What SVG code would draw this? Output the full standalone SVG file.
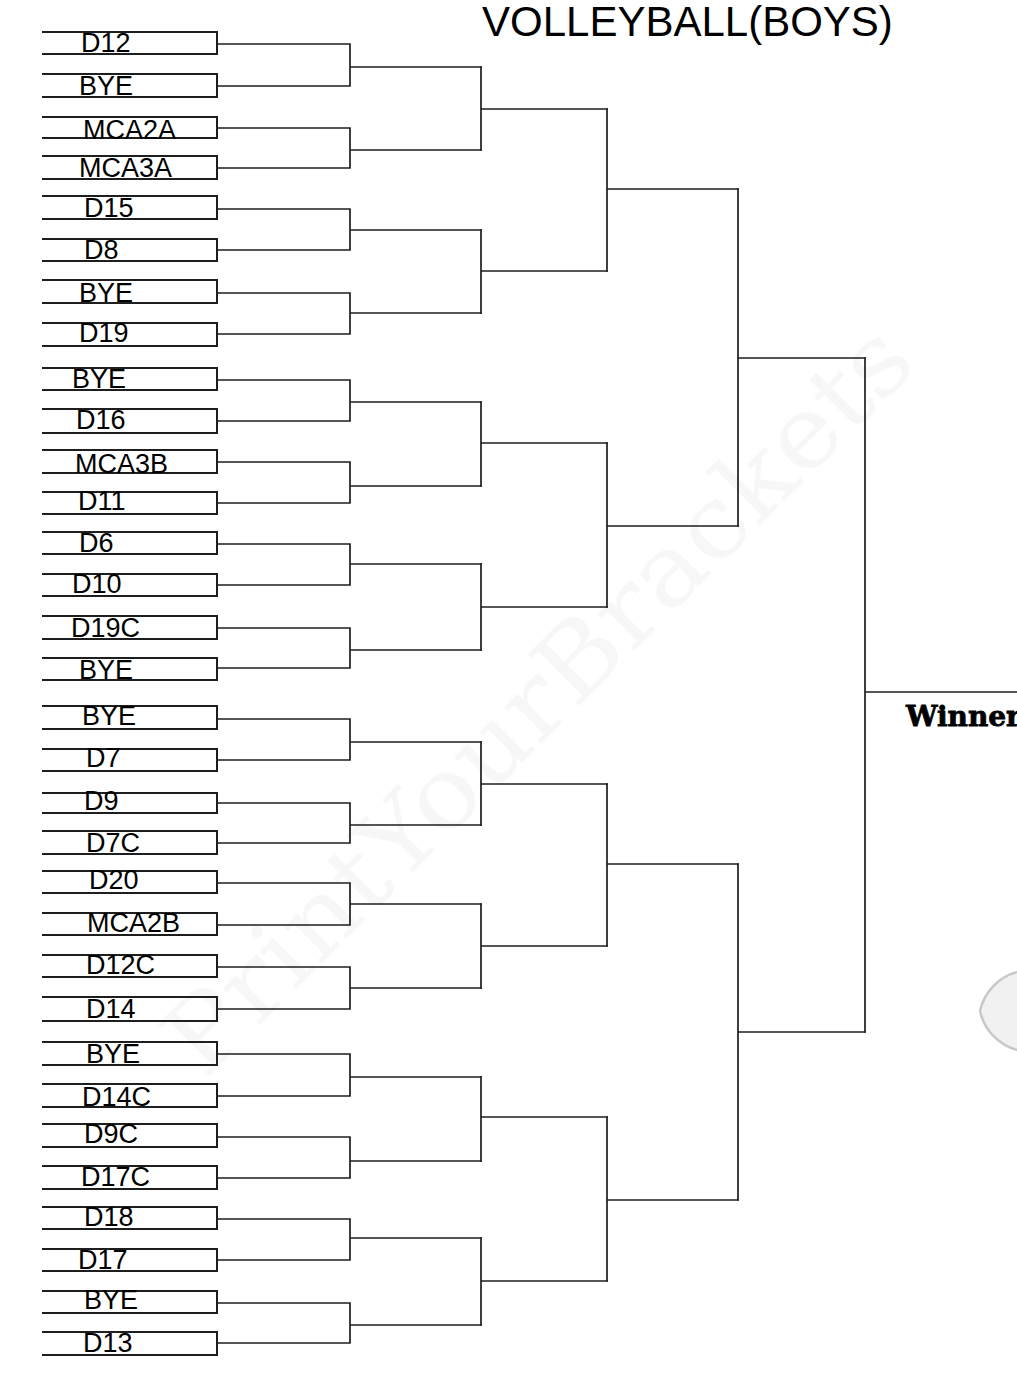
<svg xmlns="http://www.w3.org/2000/svg" width="1017" height="1387" viewBox="0 0 1017 1387">
<style>
.box{fill:none;stroke:#1e1e1e;stroke-width:2}
.con{fill:none;stroke:#1e1e1e;stroke-width:1.7;stroke-linecap:square}
.lbl{font-family:"Liberation Sans",Arial,sans-serif;font-size:27px;fill:#000}
.title{font-family:"Liberation Sans",Arial,sans-serif;font-size:42px;fill:#000}
.win{font-family:"DejaVu Serif",serif;font-weight:bold;font-size:28px;fill:#000;stroke:#000;stroke-width:0.8}
.wm{font-family:"DejaVu Serif",serif;font-size:100px;fill:#f7f7f7}
</style>
<rect width="1017" height="1387" fill="#fff"/>
<text class="wm" transform="translate(205,1080) rotate(-45)" textLength="1010" lengthAdjust="spacingAndGlyphs">PrintYourBrackets</text>
<path d="M1017,972 A52,52 0 0 0 980,1011 A52,52 0 0 0 1017,1050" fill="#f1f1f1" stroke="#c8c8c8" stroke-width="2.5"/>
<text class="title" x="482" y="36">VOLLEYBALL(BOYS)</text>
<g id="connectors">
<path class="con" d="M217,44H350V86H217 M350,67H481 M217,128H350V168H217 M350,150H481 M217,209H350V250H217 M350,230H481 M217,293H350V334H217 M350,313H481 M217,380H350V421H217 M350,402H481 M217,462H350V503H217 M350,486H481 M217,544H350V585H217 M350,564H481 M217,628H350V668H217 M350,650H481 M217,719H350V760H217 M350,742H481 M217,803H350V843H217 M350,825H481 M217,883H350V925H217 M350,904H481 M217,967H350V1009H217 M350,988H481 M217,1054H350V1096H217 M350,1077H481 M217,1137H350V1178H217 M350,1161H481 M217,1219H350V1260H217 M350,1238H481 M217,1303H350V1343H217 M350,1325H481"/>
<path class="con" d="M481,67V150 M481,109H607 M481,230V313 M481,271H607 M481,402V486 M481,443H607 M481,564V650 M481,607H607 M481,742V825 M481,784H607 M481,904V988 M481,946H607 M481,1077V1161 M481,1117H607 M481,1238V1325 M481,1281H607"/>
<path class="con" d="M607,109V271 M607,189H738 M607,443V607 M607,526H738 M607,784V946 M607,864H738 M607,1117V1281 M607,1200H738"/>
<path class="con" d="M738,189V526 M738,358H865 M738,864V1200 M738,1032H865"/>
<path class="con" d="M865,358V1032 M865,692H1017"/>
</g>
<g id="n1"><path class="box" d="M42,32H217V54H42"/><text class="lbl" x="81" y="52">D12</text></g>
<g id="n2"><path class="box" d="M42,74H217V97H42"/><text class="lbl" x="79" y="95">BYE</text></g>
<g id="n3"><path class="box" d="M42,117H217V138H42"/><text class="lbl" x="83" y="139">MCA2A</text></g>
<g id="n4"><path class="box" d="M42,156H217V179H42"/><text class="lbl" x="79" y="177">MCA3A</text></g>
<g id="n5"><path class="box" d="M42,196H217V219H42"/><text class="lbl" x="84" y="217">D15</text></g>
<g id="n6"><path class="box" d="M42,239H217V261H42"/><text class="lbl" x="84" y="259">D8</text></g>
<g id="n7"><path class="box" d="M42,280H217V303H42"/><text class="lbl" x="79" y="302">BYE</text></g>
<g id="n8"><path class="box" d="M42,323H217V346H42"/><text class="lbl" x="79" y="342">D19</text></g>
<g id="n9"><path class="box" d="M42,368H217V390H42"/><text class="lbl" x="72" y="388">BYE</text></g>
<g id="n10"><path class="box" d="M42,409H217V433H42"/><text class="lbl" x="76" y="429">D16</text></g>
<g id="n11"><path class="box" d="M42,450H217V473H42"/><text class="lbl" x="75" y="473">MCA3B</text></g>
<g id="n12"><path class="box" d="M42,492H217V514H42"/><text class="lbl" x="78" y="510">D11</text></g>
<g id="n13"><path class="box" d="M42,532H217V554H42"/><text class="lbl" x="79" y="552">D6</text></g>
<g id="n14"><path class="box" d="M42,574H217V596H42"/><text class="lbl" x="72" y="593">D10</text></g>
<g id="n15"><path class="box" d="M42,616H217V639H42"/><text class="lbl" x="71" y="637">D19C</text></g>
<g id="n16"><path class="box" d="M42,658H217V680H42"/><text class="lbl" x="79" y="679">BYE</text></g>
<g id="n17"><path class="box" d="M42,706H217V729H42"/><text class="lbl" x="82" y="725">BYE</text></g>
<g id="n18"><path class="box" d="M42,749H217V771H42"/><text class="lbl" x="86" y="767">D7</text></g>
<g id="n19"><path class="box" d="M42,793H217V813H42"/><text class="lbl" x="84" y="810">D9</text></g>
<g id="n20"><path class="box" d="M42,831H217V854H42"/><text class="lbl" x="86" y="852">D7C</text></g>
<g id="n21"><path class="box" d="M42,871H217V893H42"/><text class="lbl" x="89" y="889">D20</text></g>
<g id="n22"><path class="box" d="M42,913H217V935H42"/><text class="lbl" x="87" y="932">MCA2B</text></g>
<g id="n23"><path class="box" d="M42,955H217V977H42"/><text class="lbl" x="86" y="974">D12C</text></g>
<g id="n24"><path class="box" d="M42,997H217V1021H42"/><text class="lbl" x="86" y="1018">D14</text></g>
<g id="n25"><path class="box" d="M42,1042H217V1065H42"/><text class="lbl" x="86" y="1063">BYE</text></g>
<g id="n26"><path class="box" d="M42,1084H217V1107H42"/><text class="lbl" x="82" y="1106">D14C</text></g>
<g id="n27"><path class="box" d="M42,1124H217V1147H42"/><text class="lbl" x="84" y="1143">D9C</text></g>
<g id="n28"><path class="box" d="M42,1166H217V1189H42"/><text class="lbl" x="81" y="1186">D17C</text></g>
<g id="n29"><path class="box" d="M42,1207H217V1229H42"/><text class="lbl" x="84" y="1226">D18</text></g>
<g id="n30"><path class="box" d="M42,1249H217V1271H42"/><text class="lbl" x="78" y="1269">D17</text></g>
<g id="n31"><path class="box" d="M42,1291H217V1313H42"/><text class="lbl" x="84" y="1309">BYE</text></g>
<g id="n32"><path class="box" d="M42,1332H217V1355H42"/><text class="lbl" x="83" y="1352">D13</text></g>
<g id="winner"><text class="win" x="906" y="726">Winner</text></g>
</svg>
